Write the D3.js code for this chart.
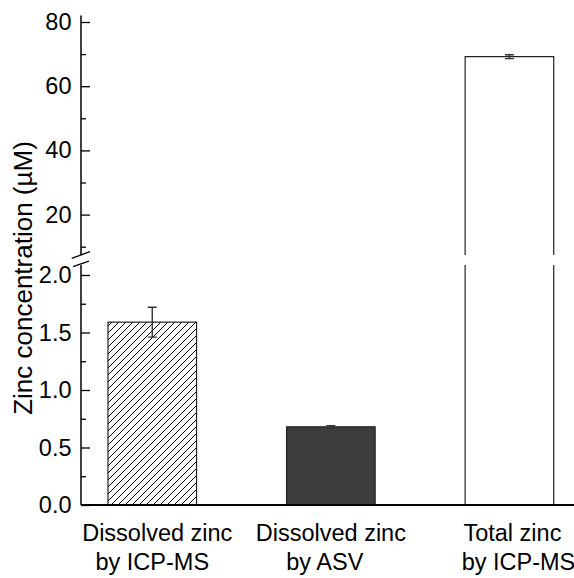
<!DOCTYPE html>
<html>
<head>
<meta charset="utf-8">
<script src="https://cdn.jsdelivr.net/npm/d3@7"></script>
<style>
  html, body { margin: 0; padding: 0; background: #fff; }
  svg { display: block; font-family: "Liberation Sans", Arial, sans-serif; }
</style>
</head>
<body>
<svg id="chart" width="574" height="578"></svg>
<script>
// ---- data ----
const categories = [["Dissolved zinc", "by ICP-MS"], ["Dissolved zinc", "by ASV"], ["Total zinc", "by ICP-MS"]];
const values = [1.59, 0.68, 69.2];
const errors = [0.13, 0.01, 0.6];
const fills = ["hatch", "#3d3d3d", "#ffffff"];
const lowerTicks = [0, 0.5, 1.0, 1.5, 2.0];
const lowerMinor = [0.25, 0.75, 1.25, 1.75];
const upperTicks = [20, 40, 60, 80];
const upperMinor = [10, 30, 50, 70];
const yLabel = "Zinc concentration (\u00b5M)";

// ---- layout ----
const svg = d3.select("#chart");
const axisX = 81;
const yLow = d3.scaleLinear().domain([0, 2]).range([505, 275]);
const yUp = d3.scaleLinear().domain([10, 80]).range([246.7, 22]);
const lowTopY = 265, upBottomY = 255;
const x = d3.scaleBand().domain(d3.range(categories.length))
  .range([81, 580.7]).paddingInner(0.504).paddingOuter(0.151);
const labelShift = [[5, 0], [0, -6], [3, 9]];

// hatch pattern
const defs = svg.append("defs");
defs.append("pattern").attr("id", "hatch").attr("patternUnits", "userSpaceOnUse")
  .attr("width", 7).attr("height", 7)
  .append("path").attr("d", "M0,7 L7,0 M-1,1 L1,-1 M6,8 L8,6")
  .attr("stroke", "#000").attr("stroke-width", 1);

// bars
const g = svg.append("g");
values.forEach((v, i) => {
  const x0 = x(i), w = x.bandwidth();
  const fill = fills[i] === "hatch" ? "url(#hatch)" : fills[i];
  if (v <= 2) {
    g.append("rect").attr("x", x0).attr("y", yLow(v)).attr("width", w)
      .attr("height", yLow(0) - yLow(v)).attr("fill", fill)
      .attr("stroke", "#222").attr("stroke-width", 1.2);
  } else {
    g.append("rect").attr("x", x0).attr("y", lowTopY).attr("width", w)
      .attr("height", yLow(0) - lowTopY).attr("fill", fill).attr("stroke", "none");
    g.append("rect").attr("x", x0).attr("y", yUp(v)).attr("width", w)
      .attr("height", upBottomY - yUp(v)).attr("fill", fill).attr("stroke", "none");
    const path = d3.path();
    path.moveTo(x0, yLow(0)); path.lineTo(x0, lowTopY);
    path.moveTo(x0 + w, yLow(0)); path.lineTo(x0 + w, lowTopY);
    path.moveTo(x0, upBottomY); path.lineTo(x0, yUp(v)); path.lineTo(x0 + w, yUp(v)); path.lineTo(x0 + w, upBottomY);
    g.append("path").attr("d", path.toString()).attr("fill", "none")
      .attr("stroke", "#222").attr("stroke-width", 1.2);
  }
  const sc = v <= 2 ? yLow : yUp;
  const cx = x0 + w / 2;
  const e = d3.path();
  e.moveTo(cx, sc(v + errors[i])); e.lineTo(cx, sc(v - errors[i]));
  e.moveTo(cx - 4.5, sc(v + errors[i])); e.lineTo(cx + 4.5, sc(v + errors[i]));
  e.moveTo(cx - 4.5, sc(v - errors[i])); e.lineTo(cx + 4.5, sc(v - errors[i]));
  g.append("path").attr("d", e.toString()).attr("fill", "none")
    .attr("stroke", "#333").attr("stroke-width", 1.4);
});

// y axes (ticks inward)
const lowAxis = svg.append("g").attr("transform", `translate(${axisX},0)`)
  .call(d3.axisRight(yLow).tickValues(lowerTicks).tickSize(9).tickFormat(d3.format(".1f")));
const upAxis = svg.append("g").attr("transform", `translate(${axisX},0)`)
  .call(d3.axisRight(yUp).tickValues(upperTicks).tickSize(9).tickFormat(d3.format("d")));
svg.append("g").attr("transform", `translate(${axisX},0)`)
  .call(d3.axisRight(yLow).tickValues(lowerMinor).tickSize(5).tickFormat(""));
svg.append("g").attr("transform", `translate(${axisX},0)`)
  .call(d3.axisRight(yUp).tickValues(upperMinor).tickSize(5).tickFormat(""));
svg.selectAll("g .domain").remove();
svg.selectAll(".tick line").attr("stroke", "#000").attr("stroke-width", 1.3);
[lowAxis, upAxis].forEach(a => {
  a.selectAll(".tick text").attr("x", -9.5).attr("text-anchor", "end")
    .attr("font-size", 23.5).attr("fill", "#000").attr("font-family", "Liberation Sans, Arial, sans-serif");
});
svg.append("line").attr("x1", axisX).attr("x2", axisX).attr("y1", yLow(0)).attr("y2", lowTopY)
  .attr("stroke", "#000").attr("stroke-width", 1.5);
svg.append("line").attr("x1", axisX).attr("x2", axisX).attr("y1", upBottomY).attr("y2", yUp(82))
  .attr("stroke", "#000").attr("stroke-width", 1.5);
[[71.7, 258.3, 90, 251.7], [73, 266.7, 89, 261.2]].forEach(b => {
  svg.append("line").attr("x1", b[0]).attr("y1", b[1]).attr("x2", b[2]).attr("y2", b[3])
    .attr("stroke", "#000").attr("stroke-width", 1.3);
});
svg.append("line").attr("x1", axisX).attr("x2", 574).attr("y1", yLow(0)).attr("y2", yLow(0))
  .attr("stroke", "#000").attr("stroke-width", 2);

// x labels
categories.forEach((lines, i) => {
  const cx = x(i) + x.bandwidth() / 2;
  const t = svg.append("text").attr("text-anchor", "middle").attr("font-size", 23.5).attr("fill", "#000");
  lines.forEach((s, k) => t.append("tspan").attr("x", cx + labelShift[i][k]).attr("y", 541 + k * 29).text(s));
});

// y label
svg.append("text").attr("transform", "translate(31.5,278) rotate(-90)")
  .attr("text-anchor", "middle").attr("font-size", 26).attr("fill", "#000").text(yLabel);
</script>
</body>
</html>
